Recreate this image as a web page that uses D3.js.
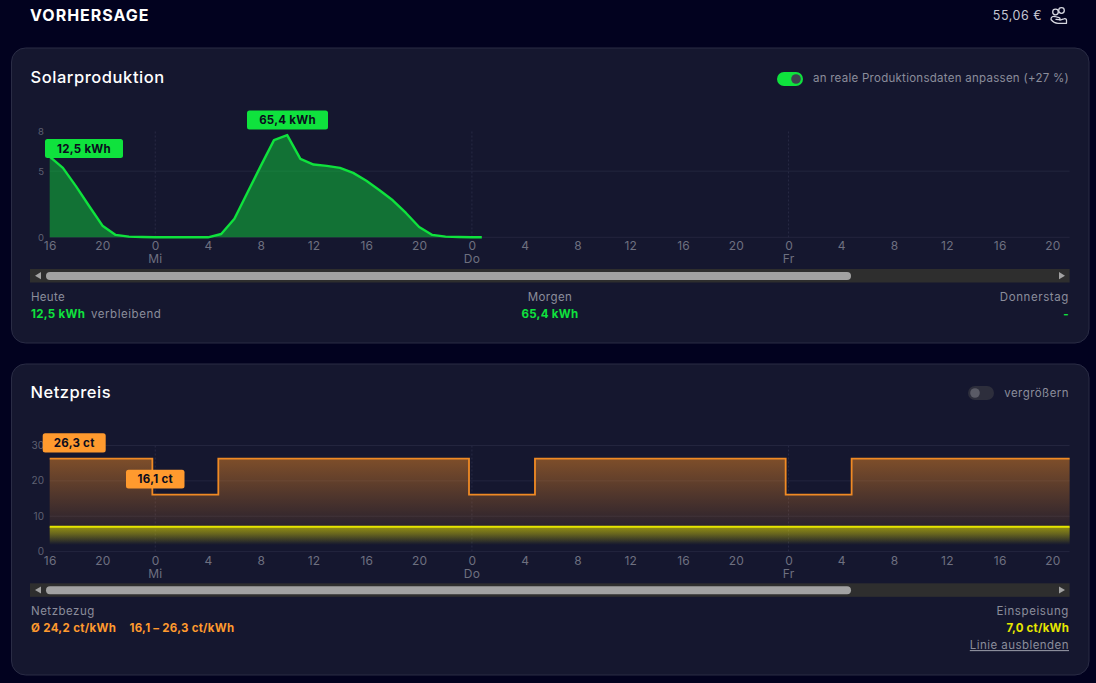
<!DOCTYPE html>
<html lang="de">
<head>
<meta charset="utf-8">
<title>Vorhersage</title>
<script src="https://cdn.jsdelivr.net/npm/d3@7"></script>
<style>
  html, body { margin: 0; padding: 0; background: #02021f; overflow: hidden; }
  svg { display: block; font-family: Inter, "Noto Sans", sans-serif; }
  .axis path, .axis line { display: none; }
  .axis text { fill: #6e7080; font-size: 12px; letter-spacing: 0.2px; font-family: Inter, "Noto Sans", sans-serif; }
</style>
</head>
<body>
<svg id="chart" width="1096" height="683"></svg>
<script>
// Hours are counted from 16:00 on the first day.
const solarPoints = [0,1,2,3,4,5,6,7,8,9,10,11,12,13,14,15,16,17,18,19,20,21,22,23,24,25,26,27,28,29,30,31,32,32.75];
const solarKwh = [6.1,5.25,3.85,2.35,0.88,0.18,0.05,0.02,0,0,0,0,0,0.25,1.4,3.4,5.4,7.35,7.73,5.93,5.5,5.4,5.25,4.87,4.27,3.56,2.8,1.84,0.78,0.18,0.05,0.02,0,0];
const priceSteps = [0,7.78,12.78,31.78,36.78,55.78,60.78,77.3];
const priceCt = [26.3,16.1,26.3,16.1,26.3,16.1,26.3,26.3];
const feedInCt = 7.0;
const hourTicks = d3.range(0, 78, 4);
const dayLabels = [[8,"Mi"],[32,"Do"],[56,"Fr"]];
const solarYTicks = [0,5,8];
const priceYTicks = [0,10,20,30];

const green = "#0fe23d", orange = "#ff9a2e", orangeLine = "#f08a24", yellow = "#e6e600";
const muted = "#8b8d9b", dim = "#5f6172", cardFill = "#15172f";

const svg = d3.select("#chart");
const defs = svg.append("defs");

function gradient(id, stops, y1, y2) {
  const g = defs.append("linearGradient").attr("id", id)
    .attr("gradientUnits", "userSpaceOnUse")
    .attr("x1", 0).attr("x2", 0).attr("y1", y1).attr("y2", y2);
  stops.forEach(s => g.append("stop").attr("offset", s[0]).attr("stop-color", s[1]).attr("stop-opacity", s[2]));
}

function label(x, y, text, size, fill, opts = {}) {
  return svg.append("text").attr("x", x).attr("y", y).text(text)
    .attr("font-size", size).attr("fill", fill)
    .attr("font-weight", opts.weight || 400)
    .attr("letter-spacing", opts.spacing === undefined ? 0.3 : opts.spacing)
    .attr("text-anchor", opts.anchor || "start");
}

function card(y, h) {
  svg.append("rect").attr("x", 11.5).attr("y", y).attr("width", 1077.5).attr("height", h)
    .attr("rx", 14).attr("fill", cardFill).attr("stroke", "#2a2c45");
}

function toggle(x, y, on) {
  svg.append("rect").attr("x", x).attr("y", y).attr("width", 26).attr("height", 14)
    .attr("rx", 7).attr("fill", on ? green : "#2d2e3c");
  svg.append("circle").attr("cx", on ? x + 19 : x + 7).attr("cy", y + 7).attr("r", 4.8)
    .attr("fill", on ? "#3f4150" : "#5a5b66");
}

function scrollbar(y) {
  svg.append("rect").attr("x", 30).attr("y", y).attr("width", 1039.6).attr("height", 13.5).attr("fill", "#2e2e2e");
  svg.append("rect").attr("x", 46).attr("y", y + 3).attr("width", 805).attr("height", 8).attr("rx", 4).attr("fill", "#a2a2a2");
  svg.append("path").attr("d", `M35 ${y + 6.7}l6 -3.6v7.2z`).attr("fill", "#a2a2a2");
  svg.append("path").attr("d", `M1065 ${y + 6.7}l-6 -3.6v7.2z`).attr("fill", "#a2a2a2");
}

function badge(x, y, w, h, text, fill) {
  svg.append("rect").attr("x", x).attr("y", y).attr("width", w).attr("height", h).attr("rx", 2.5).attr("fill", fill);
  label(x + w / 2, y + h / 2 + 4, text, 11.5, "#0b0d1e", { weight: 700, anchor: "middle", spacing: 0.25 });
}

const x = d3.scaleLinear().domain([0, 77.3]).range([49.7, 1069.6]);

function frame(y, gridTicks, yTicks, axisY, yFont) {
  const grid = svg.append("g");
  gridTicks.forEach(t => {
    grid.append("line").attr("x1", x.range()[0]).attr("x2", x.range()[1])
      .attr("y1", y(t)).attr("y2", y(t)).attr("stroke", "#23253e");
  });
  dayLabels.forEach(d => {
    grid.append("line").attr("x1", x(d[0])).attr("x2", x(d[0]))
      .attr("y1", y.range()[1]).attr("y2", y(0))
      .attr("stroke", "#282a44").attr("stroke-dasharray", "2 2");
  });
  yTicks.forEach(t => {
    label(44, y(t) + 3.5, t, yFont, dim, { anchor: "end", spacing: 0 });
  });
  const hourOf = h => (16 + h) % 24;
  const axis = d3.axisBottom(x).tickValues(hourTicks).tickFormat(hourOf).tickSize(0).tickPadding(0);
  const g = svg.append("g").attr("class", "axis").attr("transform", `translate(0,${axisY})`).call(axis);
  g.selectAll("text").attr("dy", 0).attr("y", 0);
  dayLabels.forEach(d => label(x(d[0]), axisY + 13, d[1], 12, "#6e7080", { anchor: "middle", spacing: 0.2 }));
}

/* Page header */
label(30, 20.5, "VORHERSAGE", 16, "#ffffff", { weight: 700, spacing: 1 });
label(1042, 20, "55,06 €", 12.5, "#c4c6d2", { anchor: "end", spacing: 0.5 });
const hand = svg.append("g").attr("fill", "none").attr("stroke", "#d5d6df").attr("stroke-width", 1.3)
  .attr("stroke-linecap", "round").attr("stroke-linejoin", "round");
hand.append("circle").attr("cx", 1055.5).attr("cy", 12).attr("r", 2.8);
hand.append("circle").attr("cx", 1061.5).attr("cy", 10.5).attr("r", 2.8);
hand.append("path").attr("d", "M1051 19c0 -2 2 -3 4 -2.5l4 1.2c1.6 .5 1.2 2.2 -.4 2l-2.6 -.4M1051 19.5c2 2.5 4 3.8 7 3.8h8.5v-3c0 -1.4 -1.3 -2 -2.6 -1.5l-4 1.4");

/* Solar production card */
card(48, 295);
label(30.5, 83, "Solarproduktion", 16.5, "#ffffff", { weight: 500, spacing: 0.55 });
toggle(777, 72, true);
label(1069, 82, "an reale Produktionsdaten anpassen (+27 %)", 11.5, muted, { anchor: "end", spacing: 0.27 });

const ySolar = d3.scaleLinear().domain([0, 8]).range([237.3, 131.5]);
frame(ySolar, [0, 5], solarYTicks, 250, 9.5);

const solarData = solarPoints.map((h, i) => [h, solarKwh[i]]);
svg.append("path").datum(solarData).attr("fill", green).attr("fill-opacity", 0.45)
  .attr("d", d3.area().x(d => x(d[0])).y0(ySolar(0)).y1(d => ySolar(d[1])));
svg.append("path").datum(solarData).attr("fill", "none").attr("stroke", green).attr("stroke-width", 2.4)
  .attr("stroke-linejoin", "round")
  .attr("d", d3.line().x(d => x(d[0])).y(d => ySolar(d[1])));

badge(45, 139, 78, 19, "12,5 kWh", green);
badge(247, 110.5, 81, 19, "65,4 kWh", green);
scrollbar(269);

label(31, 300.5, "Heute", 11.5, muted);
label(31, 317.5, "12,5 kWh", 11.5, green, { weight: 700 });
label(91, 317.5, "verbleibend", 11.5, muted, { spacing: 0.55 });
label(550, 300.5, "Morgen", 11.5, muted, { anchor: "middle", spacing: 0.45 });
label(550, 317.5, "65,4 kWh", 11.5, green, { weight: 700, anchor: "middle", spacing: 0.3 });
label(1069, 300.5, "Donnerstag", 11.5, muted, { anchor: "end", spacing: 0.6 });
label(1069, 317.5, "-", 11.5, green, { weight: 700, anchor: "end" });

/* Grid price card */
card(364, 311);
label(30.5, 398, "Netzpreis", 16.5, "#ffffff", { weight: 500, spacing: 0.5 });
toggle(968, 386, false);
label(1069, 397, "vergrößern", 11.5, muted, { anchor: "end", spacing: 0.45 });

const yPrice = d3.scaleLinear().domain([0, 30]).range([551.6, 445.5]);
frame(yPrice, priceYTicks, priceYTicks, 564.5, 10);

const priceData = priceSteps.map((h, i) => [h, priceCt[i]]);
gradient("priceFill", [[0, orangeLine, 0.48], [1, orangeLine, 0]], yPrice(26.3), yPrice(2.5));
gradient("feedFill", [[0, yellow, 0.55], [0.35, yellow, 0.38], [1, yellow, 0]], yPrice(feedInCt), yPrice(1.9));

const stepArea = d3.area().curve(d3.curveStepAfter).x(d => x(d[0])).y1(d => yPrice(d[1]));
svg.append("path").datum(priceData).attr("fill", "url(#priceFill)")
  .attr("d", stepArea.y0(yPrice(2.5)));
svg.append("path").datum(priceData).attr("fill", "none").attr("stroke", orangeLine).attr("stroke-width", 1.8)
  .attr("d", d3.line().curve(d3.curveStepAfter).x(d => x(d[0])).y(d => yPrice(d[1])));

svg.append("rect").attr("x", x(0)).attr("width", x(77.3) - x(0))
  .attr("y", yPrice(feedInCt)).attr("height", yPrice(1.9) - yPrice(feedInCt)).attr("fill", "url(#feedFill)");
svg.append("line").attr("x1", x(0)).attr("x2", x(77.3))
  .attr("y1", yPrice(feedInCt)).attr("y2", yPrice(feedInCt)).attr("stroke", yellow).attr("stroke-width", 2);

badge(42.7, 433.2, 63, 19.2, "26,3 ct", orange);
badge(126, 469.8, 58.5, 18.8, "16,1 ct", orange);
scrollbar(583.3);

label(31, 615, "Netzbezug", 11.5, muted, { spacing: 0.5 });
label(31, 632, "Ø 24,2 ct/kWh", 11.5, orange, { weight: 700, spacing: 0.33 });
label(129.5, 632, "16,1 – 26,3 ct/kWh", 11.5, orange, { weight: 700, spacing: 0.25 });
label(1069, 615, "Einspeisung", 11.5, muted, { anchor: "end", spacing: 0.6 });
label(1069, 632, "7,0 ct/kWh", 11.5, yellow, { weight: 700, anchor: "end", spacing: 0.2 });
label(1069, 649, "Linie ausblenden", 11.5, muted, { anchor: "end", spacing: 0.45 }).attr("text-decoration", "underline");
</script>
</body>
</html>
